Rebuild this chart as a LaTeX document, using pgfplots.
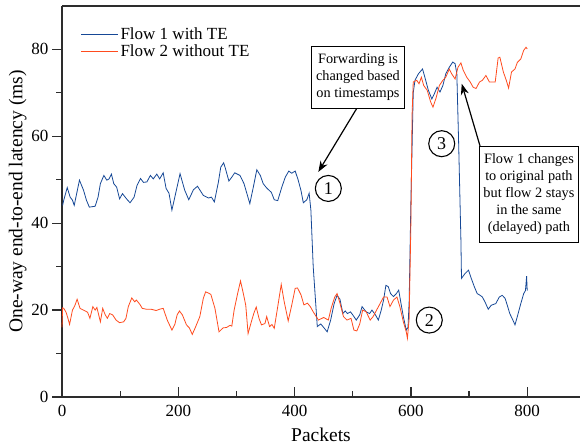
\documentclass[border=0pt]{standalone}
\usepackage{pgfplots}
\pgfplotsset{compat=1.18}
\usepackage{fontspec}
\setmainfont{Liberation Serif}
\usetikzlibrary{arrows.meta}

\definecolor{flowblue}{RGB}{22,72,150}
\definecolor{floworange}{RGB}{255,75,30}
\definecolor{axisgray}{RGB}{45,45,45}

\begin{document}
\begin{tikzpicture}
\begin{axis}[
    scale only axis,
    width=518pt, height=391pt,
    xmin=0, xmax=890.8,
    ymin=0, ymax=90,
    axis x line=bottom, axis y line=left,
    axis line style={-, line width=1.4pt, color=axisgray},
    xtick={0,200,400,600,800},
    ytick={0,20,40,60,80},
    minor xtick={100,300,500,700},
    minor ytick={10,30,50,70},
    xtick align=inside, ytick align=outside,
    major tick length=10pt, minor tick length=6pt,
    tick style={line width=1.2pt, color=axisgray},
    /pgf/number format/assume math mode=true,
    ticklabel style={font=\fontsize{17}{20}\selectfont},
    xticklabel style={yshift=-5pt},
    xlabel={Packets},
    ylabel={One-way end-to-end latency (ms)},
    label style={font=\fontsize{19.5}{22}\selectfont},
    xlabel style={yshift=-4pt},
    ylabel style={yshift=-2pt},
    legend style={draw=none, fill=none, at={(0.03,0.955)}, anchor=north west,
        font=\fontsize{17}{20}\selectfont, row sep=0pt},
    legend cell align=left,
    legend image code/.code={\draw[#1] (0pt,0pt) -- (37pt,0pt);},
    clip=false,
]
\addplot[flowblue, line width=0.8pt] coordinates {
(1,44.1)(3,45.3)(9,48.2)(14,46)(18,45.3)(21,44.1)(30,49.9)(37,47.6)(42,45.3)(47,43.7)
(57,43.9)(62,46)(66,49.1)(72,51)(77,49.9)(81,50.2)(85,51.3)(89,49.1)(94,48.3)(99,45.6)
(104,46.8)(111,45.6)(117,44.7)(124,46)(129,48.7)(135,50.3)(140,49.4)(146,49.5)(152,51)(157,50.2)
(163,51.3)(168,50.2)(174,51.6)(179,48)(184,46.9)(189,43)(194,46)(203,51.4)(211,47.6)(218,45.4)
(226,47.7)(233,48.5)(243,46.4)(252,45.8)(257,46)(262,44.9)(269,49.5)(273,52.9)(278,53.9)(281,52.6)
(287,49.7)(292,50.6)(297,51.6)(306,51)(313,49.1)(323,44.5)(329,48.3)(335,52.3)(341,51)(346,49.1)
(352,48.1)(360,47.1)(365,45.4)(371,45.2)(378,48.3)(384,50.6)(390,52)(395,51.5)(401,52)(406,50)
(411,47.5)(415,44.7)(421,45.4)(425,46.9)(428,43)(432,30)(439,16.2)(445,16.8)(450,16)(456,15)
(462,17.7)(468,21.5)(473,23.4)(478,22.5)(483,19.2)(487,19.8)(491,19.2)(496,19.6)(500,18.9)(506,17.7)
(512,18.9)(516,20.8)(523,19.6)(529,19.2)(533,20)(539,18.9)(544,17.7)(549,20)(553,22.3)(557,25.7)
(561,25.4)(565,23.8)(570,23.1)(575,23.8)(579,24.6)(583,21.5)(587,18.5)(592,15.4)(595,16)(597,22)
(600,45)(604,70)(607,72.9)(613,74.4)(620,75.5)(624,73.6)(630,70.6)(636,68.6)(640,69.7)(645,71.3)
(650,70.2)(655,71.7)(660,74.4)(666,75.9)(672,77.1)(676,76.7)(679,74.4)(682,59)(686,36.1)(687,27.3)
(693,28.4)(699,29.2)(703,27.6)(709,25.4)(714,23.8)(719,23.4)(723,23)(728,21.7)(733,20.2)(738,21.1)
(746,21.5)(752,23)(757,23.4)(762,22.7)(766,21)(770,19.2)(775,17.8)(779,16.6)(783,18.5)(789,21.5)
(794,23.8)(797,24.5)(799,27.8)(800,24.5)
};
\addlegendentry{Flow 1 with TE}
\addplot[floworange, line width=0.8pt] coordinates {
(0,16)(1,20.5)(3,20.4)(7,19.5)(10,18.2)(13,16.7)(18,20)(22,21)(26,22.5)(31,20.4)
(37,20)(44,19.5)(48,18.1)(53,20.8)(57,20)(60,20.6)(66,17.3)(70,20.4)(74,19)(78,18.1)
(82,19.2)(87,18.9)(93,17.7)(99,17.1)(106,17.3)(110,18.1)(114,20.8)(120,22.8)(125,21.9)(128,22.3)
(134,21.3)(138,20.4)(145,20.2)(153,20.2)(162,19.9)(168,20.2)(174,20.4)(181,17.7)(189,15.4)(194,16.7)
(198,18.9)(202,19.8)(207,18.9)(214,16.6)(219,15.9)(224,14.4)(229,15.9)(237,18.5)(243,22.7)(247,24.2)
(252,23.9)(256,23.6)(263,20.4)(270,15)(277,15.9)(283,16)(289,16.5)(292,16.3)(296,20)(302,23.8)
(307,26.7)(312,23.7)(316,21.1)(320,14.6)(326,17.5)(330,19.3)(334,20.7)(339,18)(343,16.6)(349,16.9)
(352,18.5)(357,16.2)(361,16.7)(365,15.8)(371,20.8)(377,25.9)(382,22)(389,17.5)(395,21.1)(401,25)
(405,25.1)(411,23.5)(416,21.2)(422,21.6)(427,20.8)(432,19.6)(441,17.7)(450,18.3)(458,17.7)(463,20.5)
(469,23)(473,23.8)(478,21.6)(484,18.5)(490,17.7)(497,18.1)(502,15.4)(507,15.2)(512,16.8)(517,20)
(523,19.6)(530,17.7)(535,18.5)(541,20)(547,21.5)(553,23)(559,23)(564,20.8)(570,22.3)(576,23)
(581,20.8)(587,17.3)(592,15)(594,13.5)(597,18)(600,40)(602,65)(604,72.5)(610,72.9)(614,72.1)
(618,73.6)(622,71.7)(628,70.6)(634,67.9)(638,66.7)(643,68.7)(649,71.7)(655,72.9)(660,73.6)(666,75.5)
(670,74.4)(676,73.2)(681,75.9)(686,76.9)(690,75.2)(696,73.6)(702,72.5)(707,71.3)(712,71)(718,72.5)
(723,72.9)(729,74)(735,72.5)(745,72.5)(750,78)(753,78.2)(759,74.8)(764,72.9)(768,71.1)(773,74.8)
(779,75.5)(783,77)(789,77.8)(794,79.8)(798,80.5)(800,80.1)
};
\addlegendentry{Flow 2 without TE}

\draw[axisgray, line width=1.4pt] (rel axis cs:0,1) -- (rel axis cs:1,1);

\node[draw, line width=1.1pt, fill=white, align=center, inner xsep=4.5pt, inner ysep=7.5pt,
      font=\fontsize{14.3}{17}\selectfont] at (axis cs:509,73.6)
      {Forwarding is\\changed based\\on timestamps};
\draw[-{Stealth[length=11pt,width=8pt]}, line width=1.2pt] (axis cs:506.8,66.4) -- (axis cs:440.8,51.8);

\node[draw, line width=1.1pt, fill=white, align=center, inner xsep=4pt, inner ysep=7.5pt,
      font=\fontsize{14.3}{17}\selectfont] at (axis cs:803,46.7)
      {Flow 1 changes\\to original path\\but flow 2 stays\\in the same\\(delayed) path};
\draw[-{Stealth[length=11pt,width=8pt]}, line width=1.2pt] (axis cs:718.8,57.8) -- (axis cs:687.4,72.1);

\node[circle, draw, line width=1.1pt, minimum size=26pt, inner sep=0pt,
      font=\fontsize{18}{18}\selectfont] at (axis cs:458,48) {1};
\node[circle, draw, line width=1.1pt, minimum size=26pt, inner sep=0pt,
      font=\fontsize{18}{18}\selectfont] at (axis cs:631.6,17.7) {2};
\node[circle, draw, line width=1.1pt, minimum size=26pt, inner sep=0pt,
      font=\fontsize{18}{18}\selectfont] at (axis cs:653,58.3) {3};

\coordinate (bbl) at (rel axis cs:-0.1197,-0.1279);
\coordinate (btr) at (rel axis cs:1,1.0153);
\end{axis}
\pgfresetboundingbox
\path (bbl) rectangle (btr);
\end{tikzpicture}
\end{document}
